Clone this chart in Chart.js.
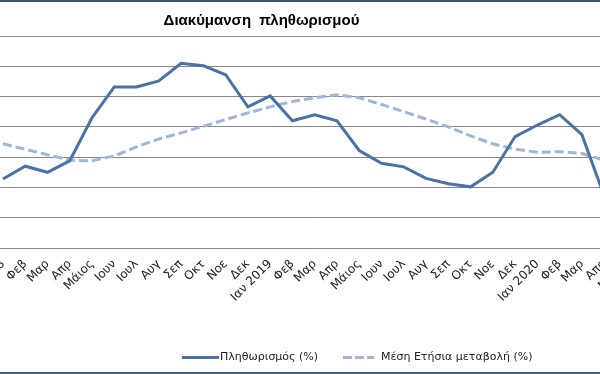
<!DOCTYPE html>
<html>
<head>
<meta charset="utf-8">
<script src="https://cdn.jsdelivr.net/npm/chart.js@4/dist/chart.umd.min.js"></script>
<style>
  html, body { margin: 0; padding: 0; background: #fff; }
  #wrap { position: relative; width: 600px; height: 374px; overflow: hidden; background: #fff; }
  #topline { position: absolute; left: 0; top: 0; width: 600px; height: 2px; background: #3d566c; }
  #bottomline { position: absolute; left: 0; top: 372px; width: 600px; height: 2px; background: #43607e; }
  #title { position: absolute; left: 0; top: 11px; width: 523px; text-align: center; white-space: pre;
           font: bold 15px "Liberation Sans", Arial, sans-serif; color: #000; }
  #chartBox { position: absolute; left: -70px; top: 0; width: 730px; height: 374px; }
  .leg { position: absolute; top: 350px; font: 11px "DejaVu Sans", Verdana, sans-serif; color: #222; white-space: pre; }
  .swatch { position: absolute; top: 356px; height: 3px; }
</style>
</head>
<body>
<div id="wrap">
  <div id="chartBox"><canvas id="inflationChart" width="730" height="374"></canvas></div>
  <div id="topline"></div>
  <div id="bottomline"></div>
  <div id="title">Διακύμανση  πληθωρισμού</div>
  <div class="swatch" style="left:182px;width:37px;background:#4a72a8;"></div>
  <div class="leg" style="left:220px;">Πληθωρισμός (%)</div>
  <div class="swatch" style="left:343px;width:31px;background:repeating-linear-gradient(90deg,#9fb7da 0 9px,transparent 9px 12px);"></div>
  <div class="leg" style="left:381px;">Μέση Ετήσια μεταβολή (%)</div>
</div>
<script>
// months Jan 2018 - May 2020
const months = ['Ιαν 2018', 'Φεβ', 'Μαρ', 'Απρ', 'Μάιος', 'Ιουν', 'Ιουλ', 'Αυγ', 'Σεπ', 'Οκτ', 'Νοε', 'Δεκ',
                'Ιαν 2019', 'Φεβ', 'Μαρ', 'Απρ', 'Μάιος', 'Ιουν', 'Ιουλ', 'Αυγ', 'Σεπ', 'Οκτ', 'Νοε', 'Δεκ',
                'Ιαν 2020', 'Φεβ', 'Μαρ', 'Απρ', 'Μάιος'];

// inflation (%)
const inflation = [0.14, 0.35, 0.25, 0.44, 1.15, 1.66, 1.66, 1.76, 2.05, 2.01, 1.86, 1.33,
                   1.51, 1.10, 1.20, 1.10, 0.61, 0.40, 0.34, 0.15, 0.06, 0.01, 0.25, 0.84,
                   1.03, 1.20, 0.87, -0.14, -0.55];

// average annual change (%)
const avgAnnual = [0.72, 0.63, 0.54, 0.45, 0.44, 0.52, 0.67, 0.80, 0.90, 1.01, 1.12, 1.23,
                   1.33, 1.42, 1.48, 1.53, 1.48, 1.37, 1.25, 1.13, 1.00, 0.85, 0.72, 0.63,
                   0.58, 0.59, 0.56, 0.45, 0.36];

const yMin = -1, yMax = 2.5, yStep = 0.5;

const ctx = document.getElementById('inflationChart').getContext('2d');
new Chart(ctx, {
    type: 'line',
    data: {
        labels: months,
        datasets: [{
            label: 'Πληθωρισμός (%)',
            data: inflation,
            borderColor: '#4a72a8',
            borderWidth: 3,
            pointRadius: 0,
            tension: 0
        }, {
            label: 'Μέση Ετήσια μεταβολή (%)',
            data: avgAnnual,
            borderColor: '#9fb7da',
            borderWidth: 3,
            borderDash: [9, 4],
            pointRadius: 0,
            tension: 0
        }]
    },
    options: {
        responsive: false,
        animation: false,
        layout: { padding: { left: 61.8, right: 22.4, top: 36, bottom: 66 } },
        scales: {
            x: {
                offset: true,
                grid: { display: false, drawTicks: false },
                border: { display: false },
                ticks: {
                    autoSkip: false,
                    minRotation: 45,
                    maxRotation: 45,
                    padding: 9,
                    color: '#222',
                    font: { family: 'DejaVu Sans', size: 12 }
                },
                afterFit: (scale) => { scale.height = 60; scale.paddingLeft = 0; scale.paddingRight = 0; }
            },
            y: {
                min: yMin,
                max: yMax,
                grid: { color: '#888888', lineWidth: 1, drawTicks: false },
                border: { display: false },
                ticks: { display: false, stepSize: yStep },
                afterFit: (scale) => { scale.width = 0; }
            }
        },
        plugins: {
            legend: { display: false },
            tooltip: { enabled: false }
        }
    }
});
</script>
</body>
</html>
